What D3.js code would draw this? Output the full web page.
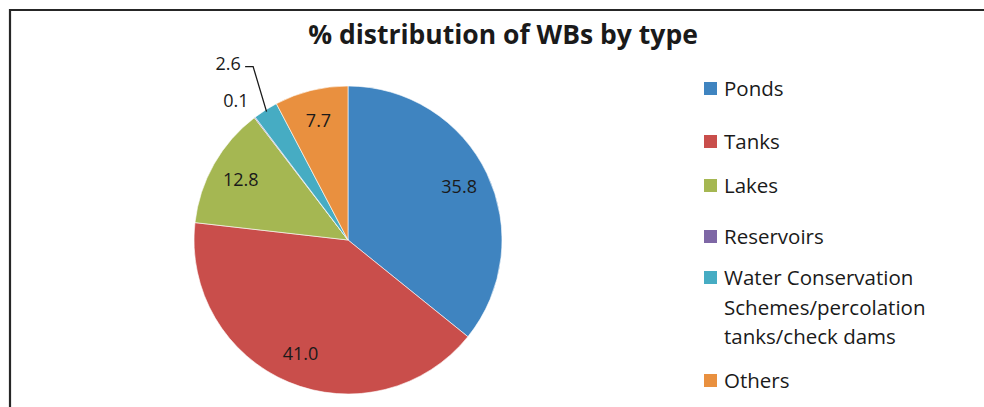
<!DOCTYPE html>
<html>
<head>
<meta charset="utf-8">
<script src="https://cdn.jsdelivr.net/npm/d3@7"></script>
<style>
  body { margin: 0; background: #fff; }
  svg { display: block; font-family: "Open Sans", Lato, sans-serif; }
</style>
</head>
<body>
<div id="chart"></div>
<script>
const categories = ['Ponds', 'Tanks', 'Lakes', 'Reservoirs', 'Water Conservation Schemes/percolation tanks/check dams', 'Others'];
const legendLines = [['Ponds'], ['Tanks'], ['Lakes'], ['Reservoirs'], ['Water Conservation', 'Schemes/percolation', 'tanks/check dams'], ['Others']];
const values = [35.8, 41.0, 12.8, 0.1, 2.6, 7.7];
const colors = ['#3F84C0', '#C94E4B', '#A5B752', '#7E67A5', '#46ACC3', '#E9903F'];

const width = 984, height = 407;
const cx = 348, cy = 240, radius = 154;

const svg = d3.select('#chart')
    .append('svg')
    .attr('width', width)
    .attr('height', height);

// Chart frame (cut at right and bottom)
svg.append('path')
    .attr('d', `M 10 ${height + 2} L 10 10 L ${width + 2} 10`)
    .attr('fill', 'none')
    .attr('stroke', '#262626')
    .attr('stroke-width', 2.2);

// Title
svg.append('text')
    .attr('x', 503)
    .attr('y', 44)
    .attr('text-anchor', 'middle')
    .attr('font-size', 26.5)
    .attr('font-weight', 'bold')
    .attr('fill', '#1a1a1a')
    .text('% distribution of WBs by type');

const data = categories.map((c, i) => ({ name: c, value: values[i], color: colors[i] }));

const pie = d3.pie().sort(null).value(d => d.value);
const arcs = pie(data);

const arc = d3.arc().innerRadius(0).outerRadius(radius);

const g = svg.append('g').attr('transform', `translate(${cx},${cy})`);

g.selectAll('path.slice')
    .data(arcs)
    .join('path')
    .attr('class', 'slice')
    .attr('d', arc)
    .attr('fill', d => d.data.color)
    .attr('stroke', '#fff')
    .attr('stroke-width', 0.6);

// Point at a given radius along the slice's middle angle
function polar(d, r) {
    const a = (d.startAngle + d.endAngle) / 2;
    return [Math.sin(a) * r, -Math.cos(a) * r];
}

// Inside labels for large slices
const inside = arcs.filter(d => d.data.value >= 5);
g.selectAll('text.inlabel')
    .data(inside)
    .join('text')
    .attr('class', 'inlabel')
    .attr('x', d => polar(d, radius * 0.8)[0])
    .attr('y', d => polar(d, radius * 0.8)[1])
    .attr('text-anchor', 'middle')
    .attr('dy', '0.35em')
    .attr('font-size', 18)
    .attr('fill', '#1a1a1a')
    .text(d => d.data.value.toFixed(1));

// Outside labels for tiny slices; 2.6 sits further out with a leader line
const outside = arcs.filter(d => d.data.value < 5);
outside.forEach(d => {
    const lead = d.data.name !== 'Reservoirs';
    const [px, py] = polar(d, radius * (lead ? 1.38 : 1.16));
    const lx = px - (lead ? 6 : 4), ly = py + (lead ? 3 : 3);
    g.append('text')
        .attr('x', lx)
        .attr('y', ly)
        .attr('text-anchor', 'middle')
        .attr('dy', '0.35em')
        .attr('font-size', 18)
        .attr('fill', '#1a1a1a')
        .text(d.data.value.toFixed(1));
    if (lead) {
        const [ex, ey] = polar(d, radius - 2);
        g.append('path')
            .attr('d', `M ${lx + 17} ${ly + 3} L ${lx + 25} ${ly + 3} L ${ex} ${ey}`)
            .attr('fill', 'none')
            .attr('stroke', '#1a1a1a')
            .attr('stroke-width', 1.3);
    }
});

// Legend
const legendY = [89, 142, 186, 237, 278, 381];
const legend = svg.append('g');
data.forEach((d, i) => {
    const y = legendY[i];
    legend.append('rect')
        .attr('x', 704)
        .attr('y', y - 7)
        .attr('width', 13)
        .attr('height', 13)
        .attr('fill', d.color);
    const t = legend.append('text')
        .attr('x', 724)
        .attr('y', y)
        .attr('font-size', 20.5)
        .attr('fill', '#1a1a1a');
    legendLines[i].forEach((line, j) => {
        t.append('tspan')
            .attr('x', 724)
            .attr('dy', j === 0 ? '0.36em' : 29.5)
            .text(line);
    });
});
</script>
</body>
</html>
